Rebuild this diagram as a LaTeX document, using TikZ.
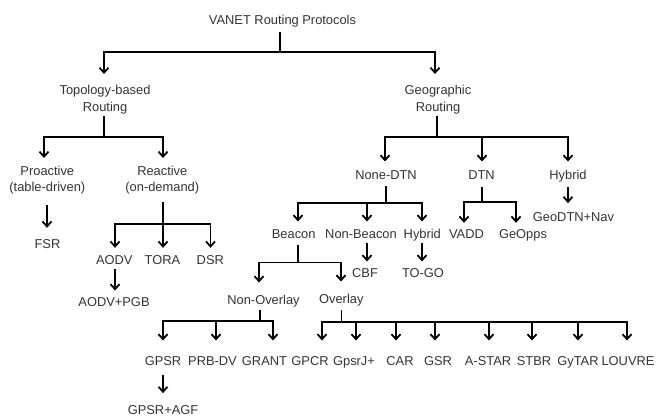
\documentclass[tikz,border=0pt]{standalone}
\usepackage{fontspec}
\setmainfont{Liberation Sans}
\usetikzlibrary{arrows.meta}
\begin{document}
\begin{tikzpicture}[x=1pt,y=-1pt,
  lbl/.style={font=\fontsize{12.87}{16.5}\selectfont, text=black!80, inner xsep=1pt, inner ysep=2pt, text height=9.3pt, text depth=2.7pt, anchor=base},
  lbl2/.style={font=\fontsize{12.87}{16.5}\selectfont, text=black!80, inner xsep=1pt, inner ysep=2pt, align=center, anchor=north},
  conn/.style={line width=1.8pt, -{Straight Barb[length=5pt,width=9pt]}}]
\useasboundingbox (0,0) rectangle (659,418);

% nodes
\node[lbl] (title) at (282.5,24) {VANET Routing Protocols};
\node[lbl2] (topo) at (105,83) {Topology-based\\Routing};
\node[lbl2] (geo) at (438,83) {Geographic\\Routing};
\node[lbl2] (pro) at (47.3,163.5) {Proactive\\(table-driven)};
\node[lbl2] (rea) at (162.3,163.5) {Reactive\\(on-demand)};
\node[lbl] (fsr) at (47.5,248) {FSR};
\node[lbl] (aodv) at (114.3,264) {AODV};
\node[lbl] (tora) at (162.5,264) {TORA};
\node[lbl] (dsr) at (210.3,264) {DSR};
\node[lbl] (aodvpgb) at (114,306) {AODV+PGB};
\node[lbl] (ndtn) at (386,179) {None-DTN};
\node[lbl] (dtn) at (481.5,179) {DTN};
\node[lbl] (hyb) at (568,179) {Hybrid};
\node[lbl] (beacon) at (293.7,238) {Beacon};
\node[lbl] (nbeacon) at (361,238) {Non-Beacon};
\node[lbl] (hyb2) at (422.3,238) {Hybrid};
\node[lbl] (cbf) at (365,277) {CBF};
\node[lbl] (togo) at (423,277) {TO-GO};
\node[lbl] (vadd) at (466.5,238.5) {VADD};
\node[lbl] (geopps) at (523,238.5) {GeOpps};
\node[lbl] (geodtn) at (573.5,221) {GeoDTN+Nav};
\node[lbl] (nover) at (263.5,304) {Non-Overlay};
\node[lbl] (over) at (341.3,303) {Overlay};
\node[lbl] (gpsr) at (163,365.5) {GPSR};
\node[lbl] (prbdv) at (212.5,365.5) {PRB-DV};
\node[lbl] (grant) at (264.5,365.5) {GRANT};
\node[lbl] (gpcr) at (310,365.5) {GPCR};
\node[lbl] (gpsrj) at (354,365.5) {GpsrJ+};
\node[lbl] (car) at (400,365.5) {CAR};
\node[lbl] (gsr) at (438,365.5) {GSR};
\node[lbl] (astar) at (488,365.5) {A-STAR};
\node[lbl] (stbr) at (534,365.5) {STBR};
\node[lbl] (gytar) at (578,365.5) {GyTAR};
\node[lbl] (louvre) at (628,365.5) {LOUVRE};
\node[lbl] (gpsragf) at (163,414.6) {GPSR+AGF};

% junctions
\coordinate (j0) at (280,52);
\coordinate (j1) at (104,137);
\coordinate (j2) at (437,137);
\coordinate (j3) at (163,224);
\coordinate (j4) at (386,203);
\coordinate (j5) at (482,202);
\coordinate (j6) at (298,262.5);
\coordinate (j7) at (260,321);
\coordinate (j8) at (341.5,322);

% title
\draw[conn, shorten <=3pt, shorten >=9pt] ([xshift=-2.5pt]title.south) -- (j0) -| ([xshift=-1pt]topo.north);
\draw[conn, shorten <=3pt, shorten >=9pt] ([xshift=-2.5pt]title.south) -- (j0) -| ([xshift=-3pt]geo.north);
% topology
\draw[conn, shorten >=5.5pt] ([xshift=-1pt]topo.south) -- (j1) -| ([xshift=-3.3pt]pro.north);
\draw[conn, shorten >=5.5pt] ([xshift=-1pt]topo.south) -- (j1) -| ([xshift=0.7pt]rea.north);
% geographic
\draw[conn, shorten >=6pt] ([xshift=-1pt]geo.south) -- (j2) -| ([xshift=-1pt]ndtn.north);
\draw[conn, shorten >=6pt] ([xshift=-1pt]geo.south) -- (j2) -| ([xshift=0.5pt]dtn.north);
\draw[conn, shorten >=6pt] ([xshift=-1pt]geo.south) -- (j2) -| (hyb.north);
% proactive
\draw[conn, shorten <=9pt, shorten >=8.7pt] ([xshift=-0.3pt]pro.south) -- ([xshift=-0.5pt]fsr.north);
% reactive
\draw[conn, shorten <=5.5pt, shorten >=4.7pt] ([xshift=0.7pt]rea.south) -- (j3) -| ([xshift=0.7pt]aodv.north);
\draw[conn, shorten <=5.5pt, shorten >=4.7pt] ([xshift=0.7pt]rea.south) -- (j3) -| ([xshift=0.5pt]tora.north);
\draw[conn, shorten <=5.5pt, shorten >=4.7pt] ([xshift=0.7pt]rea.south) -- (j3) -| ([xshift=0.2pt]dsr.north);
\draw[conn, shorten >=4pt] ([xshift=0.7pt]aodv.south) -- ([xshift=1pt]aodvpgb.north);
% none-dtn
\draw[conn, shorten <=2.3pt, shorten >=5pt] (ndtn.south) -- (j4) -| ([xshift=4.3pt]beacon.north);
\draw[conn, shorten <=2.3pt, shorten >=5pt] (ndtn.south) -- (j4) -| ([xshift=6pt]nbeacon.north);
\draw[conn, shorten <=2.3pt, shorten >=5pt] (ndtn.south) -- (j4) -| ([xshift=-0.3pt]hyb2.north);
% dtn
\draw[conn, shorten <=3pt, shorten >=4.2pt] ([xshift=0.5pt]dtn.south) -- (j5) -| ([xshift=-2.5pt]vadd.north);
\draw[conn, shorten <=3pt, shorten >=4.2pt] ([xshift=0.5pt]dtn.south) -- (j5) -| ([xshift=-7pt]geopps.north);
% hybrid
\draw[conn, shorten <=3pt, shorten >=6.4pt] (hyb.south) -- ([xshift=-5.5pt]geodtn.north);
% beacon
\draw[conn, shorten <=2.3pt, shorten >=10pt] ([xshift=4.3pt]beacon.south) -- (j6) -| ([xshift=-4.5pt]nover.north);
\draw[conn, shorten <=2.3pt, shorten >=10pt] ([xshift=4.3pt]beacon.south) -- (j6) -| ([xshift=-0.3pt]over.north);
\draw[conn, shorten >=4pt] ([xshift=6pt]nbeacon.south) -- ([xshift=2pt]cbf.north);
\draw[conn, shorten >=4pt] ([xshift=-0.3pt]hyb2.south) -- ([xshift=-1pt]togo.north);
% non-overlay
\draw[conn, shorten <=1.3pt, shorten >=13.5pt] ([xshift=-3.5pt]nover.south) -- (j7) -| (gpsr.north);
\draw[conn, shorten <=1.3pt, shorten >=13.5pt] ([xshift=-3.5pt]nover.south) -- (j7) -| ([xshift=3.5pt]prbdv.north);
\draw[conn, shorten <=1.3pt, shorten >=13.5pt] ([xshift=-3.5pt]nover.south) -- (j7) -| ([xshift=8.5pt]grant.north);
% overlay
\draw[conn, shorten <=2.3pt, shorten >=13.5pt] ([xshift=0.2pt]over.south) -- (j8) -| ([xshift=12pt]gpcr.north);
\draw[conn, shorten <=2.3pt, shorten >=13.5pt] ([xshift=0.2pt]over.south) -- (j8) -| ([xshift=2pt]gpsrj.north);
\draw[conn, shorten <=2.3pt, shorten >=13.5pt] ([xshift=0.2pt]over.south) -- (j8) -| ([xshift=-4pt]car.north);
\draw[conn, shorten <=2.3pt, shorten >=13.5pt] ([xshift=0.2pt]over.south) -- (j8) -| ([xshift=-3pt]gsr.north);
\draw[conn, shorten <=2.3pt, shorten >=13.5pt] ([xshift=0.2pt]over.south) -- (j8) -| ([xshift=1pt]astar.north);
\draw[conn, shorten <=2.3pt, shorten >=13.5pt] ([xshift=0.2pt]over.south) -- (j8) -| ([xshift=-2pt]stbr.north);
\draw[conn, shorten <=2.3pt, shorten >=13.5pt] ([xshift=0.2pt]over.south) -- (j8) -| (gytar.north);
\draw[conn, shorten <=2.3pt, shorten >=13.5pt] ([xshift=0.2pt]over.south) -- (j8) -| ([xshift=-1pt]louvre.north);
% gpsr
\draw[conn, shorten <=5pt, shorten >=10pt] (gpsr.south) -- (gpsragf.north);
\end{tikzpicture}
\end{document}
